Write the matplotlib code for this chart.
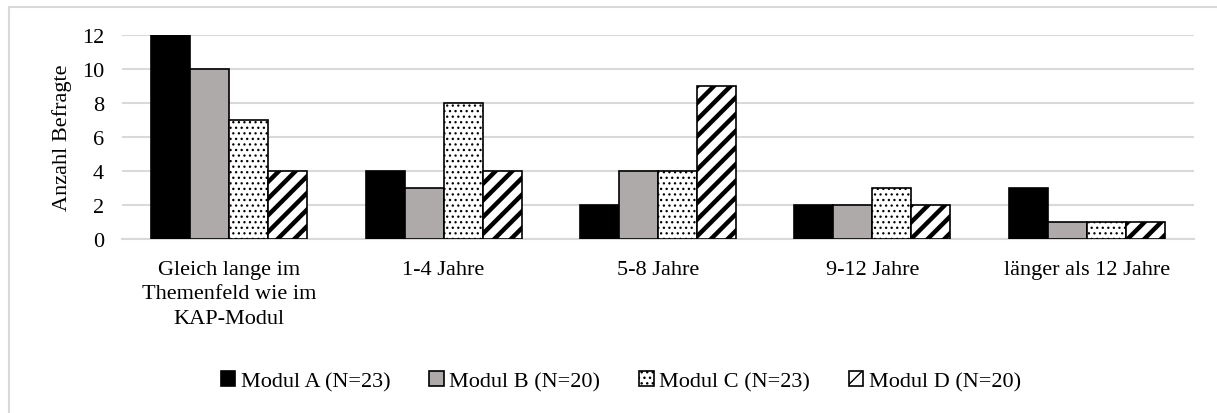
import matplotlib
matplotlib.use("Agg")
import matplotlib.pyplot as plt
import numpy as np
from matplotlib.patches import Rectangle

plt.rcParams['font.family'] = ['Liberation Serif', 'DejaVu Serif']

categories = ["Gleich lange im\nThemenfeld wie im\nKAP-Modul", "1-4 Jahre", "5-8 Jahre",
              "9-12 Jahre", "länger als 12 Jahre"]
series_names = ["Modul A (N=23)", "Modul B (N=20)", "Modul C (N=23)", "Modul D (N=20)"]
modul_a = [12, 4, 2, 2, 3]
modul_b = [10, 3, 4, 2, 1]
modul_c = [7, 8, 4, 3, 1]
modul_d = [4, 4, 9, 2, 1]
y_ticks = [0, 2, 4, 6, 8, 10, 12]

W, H = 1217, 414
FS = 16
fig = plt.figure(figsize=(W / 100, H / 100), dpi=100)
ax = fig.add_axes([122 / W, 1 - 240 / H, (1194 - 122) / W, (240 - 36) / H])

x = np.arange(len(categories))
bw = 0.182
styles = [
    dict(facecolor="black", hatch=None, hlw=1.0),
    dict(facecolor="#AEAAAA", hatch=None, hlw=1.0),
    dict(facecolor="white", hatch="...", hlw=0.9),
    dict(facecolor="white", hatch="//", hlw=3.2),
]
values = [modul_a, modul_b, modul_c, modul_d]
handles = []
for i, (vals, st) in enumerate(zip(values, styles)):
    with plt.rc_context({"hatch.linewidth": st["hlw"]}):
        bars = ax.bar(x + (i - 1.5) * bw, vals, width=bw, facecolor=st["facecolor"],
                      edgecolor="black", linewidth=1.2, hatch=st["hatch"], zorder=3,
                      label=series_names[i])
    handles.append(bars)

ax.set_xlim(-0.5, len(categories) - 0.5)
ax.set_ylim(0, 12)
ax.set_yticks(y_ticks)
ax.set_xticks(x)
ax.set_xticklabels(categories, fontsize=FS, linespacing=1.4)
ax.tick_params(axis="both", length=0, labelsize=FS)
ax.tick_params(axis="x", pad=15)
ax.tick_params(axis="y", pad=13)
ax.grid(axis="y", color="#D9D9D9", linewidth=1.5, zorder=0)
for s in ["top", "right", "left"]:
    ax.spines[s].set_visible(False)
ax.spines["bottom"].set_color("#D9D9D9")
ax.spines["bottom"].set_linewidth(1.5)
ax.set_ylabel("Anzahl Befragte", fontsize=FS, labelpad=7)

with plt.rc_context({"hatch.linewidth": 1.0}):
    leg = fig.legend(handles=handles, loc="center", bbox_to_anchor=(621 / W, 1 - 382 / H),
                     ncol=4, frameon=False, fontsize=FS, handlelength=0.65, handleheight=0.65,
                     handletextpad=0.25, columnspacing=1.75)

# chart frame
fig.patches.append(Rectangle((8.5 / W, -0.1), 1.5, 1 - 7.5 / H + 0.1,
                             transform=fig.transFigure, fill=False,
                             edgecolor="#D9D9D9", linewidth=1.5))

fig.savefig("out.png", dpi=100)
